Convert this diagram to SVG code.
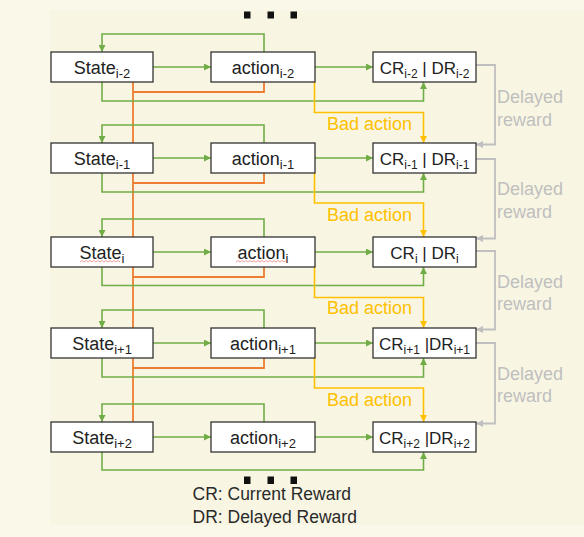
<svg xmlns="http://www.w3.org/2000/svg" width="584" height="537" viewBox="0 0 584 537">
<defs>
<style>
.box{fill:#ffffff;stroke:#333333;stroke-width:1.3}
.lbl{font-family:"Liberation Sans",Arial,sans-serif;font-size:18px;fill:#222222;text-anchor:middle}
.lblc{font-family:"Liberation Sans",Arial,sans-serif;font-size:17px;fill:#222222;text-anchor:middle}
.sub{font-size:13px}
.subc{font-size:12px}
.g{fill:none;stroke:#70ad47;stroke-width:1.6}
.o{fill:none;stroke:#ed7d31;stroke-width:1.8}
.y{fill:none;stroke:#ffc000;stroke-width:1.6}
.gr{fill:none;stroke:#bfbfbf;stroke-width:1.8}
.bad{font-family:"Liberation Sans",Arial,sans-serif;font-size:18px;fill:#ffc000}
.del{font-family:"Liberation Sans",Arial,sans-serif;font-size:18px;fill:#bfbfbf}
.leg{font-family:"Liberation Sans",Arial,sans-serif;font-size:17.5px;fill:#2a2a2a}
.sq{fill:#111111}
.wavy{fill:none;stroke:#e05050;stroke-width:0.8;opacity:0.7}
</style>
<marker id="ag" viewBox="0 0 10 10" refX="10" refY="5" markerWidth="7" markerHeight="7" markerUnits="userSpaceOnUse" orient="auto"><path d="M0,0 L10,5 L0,10 z" fill="#70ad47"/></marker>
<marker id="ay" viewBox="0 0 10 10" refX="10" refY="5" markerWidth="7" markerHeight="7" markerUnits="userSpaceOnUse" orient="auto"><path d="M0,0 L10,5 L0,10 z" fill="#ffc000"/></marker>
<marker id="agr" viewBox="0 0 10 10" refX="10" refY="5" markerWidth="7" markerHeight="7" markerUnits="userSpaceOnUse" orient="auto"><path d="M0,0 L10,5 L0,10 z" fill="#bfbfbf"/></marker>
</defs>
<rect x="0" y="0" width="584" height="537" fill="#faf8e8"/>
<rect x="50" y="10" width="534" height="515" fill="#f8f6e3"/>

<g id="connectors">
<path class="o" d="M133 82 V422"/>
<path class="o" d="M264 82 V92 H133"/>
<path class="o" d="M264 173 V183 H133"/>
<path class="o" d="M264 267 V277 H133"/>
<path class="o" d="M264 358 V368 H133"/>
<path class="g" d="M264 52 V34 H102 V52" marker-end="url(#ag)"/>
<path class="g" d="M264 143 V125 H102 V143" marker-end="url(#ag)"/>
<path class="g" d="M264 237 V219 H102 V237" marker-end="url(#ag)"/>
<path class="g" d="M264 328 V310 H102 V328" marker-end="url(#ag)"/>
<path class="g" d="M264 422 V404 H102 V422" marker-end="url(#ag)"/>
<path class="g" d="M102 82 V101 H423.5 V82" marker-end="url(#ag)"/>
<path class="g" d="M102 173 V192 H423.5 V173" marker-end="url(#ag)"/>
<path class="g" d="M102 267 V285.5 H423.5 V267" marker-end="url(#ag)"/>
<path class="g" d="M102 358 V377 H423.5 V358" marker-end="url(#ag)"/>
<path class="g" d="M102 452 V470 H423.5 V452" marker-end="url(#ag)"/>
<path class="g" d="M153 67 H211" marker-end="url(#ag)"/>
<path class="g" d="M315 67 H373" marker-end="url(#ag)"/>
<path class="g" d="M153 158 H211" marker-end="url(#ag)"/>
<path class="g" d="M315 158 H373" marker-end="url(#ag)"/>
<path class="g" d="M153 252 H211" marker-end="url(#ag)"/>
<path class="g" d="M315 252 H373" marker-end="url(#ag)"/>
<path class="g" d="M153 343 H211" marker-end="url(#ag)"/>
<path class="g" d="M315 343 H373" marker-end="url(#ag)"/>
<path class="g" d="M153 437 H211" marker-end="url(#ag)"/>
<path class="g" d="M315 437 H373" marker-end="url(#ag)"/>
<path class="y" d="M314.5 82 V112.5 H423.5 V143" marker-end="url(#ay)"/>
<path class="y" d="M314.5 173 V203 H423.5 V237" marker-end="url(#ay)"/>
<path class="y" d="M314.5 267 V297.5 H423.5 V328" marker-end="url(#ay)"/>
<path class="y" d="M314.5 358 V388 H423.5 V422" marker-end="url(#ay)"/>
<path class="gr" d="M476 65 H495 V144.5 H476" marker-end="url(#agr)"/>
<path class="gr" d="M476 159 H495 V238.5 H476" marker-end="url(#agr)"/>
<path class="gr" d="M476 251 H495 V329.5 H476" marker-end="url(#agr)"/>
<path class="gr" d="M476 343 H495 V423.5 H476" marker-end="url(#agr)"/>
<text class="bad" x="327" y="129.5">Bad action</text>
<text class="bad" x="327" y="221">Bad action</text>
<text class="bad" x="327" y="314">Bad action</text>
<text class="bad" x="327" y="406">Bad action</text>
<text class="del" x="497" y="103">Delayed</text>
<text class="del" x="497" y="125.5">reward</text>
<text class="del" x="497" y="195">Delayed</text>
<text class="del" x="497" y="217.5">reward</text>
<text class="del" x="497" y="288">Delayed</text>
<text class="del" x="497" y="310">reward</text>
<text class="del" x="497" y="380">Delayed</text>
<text class="del" x="497" y="402">reward</text>
</g>

<g id="state-i-2"><rect class="box" x="51" y="52" width="102" height="30"/><text class="lbl" x="102" y="73.5">State<tspan class="sub" dy="4.5">i-2</tspan></text></g>
<g id="action-i-2"><rect class="box" x="211" y="52" width="104" height="30"/><text class="lbl" x="263" y="73.5">action<tspan class="sub" dy="4.5">i-2</tspan></text></g>
<g id="reward-i-2"><rect class="box" x="373" y="52" width="103" height="30"/><text class="lblc" x="424.5" y="73.5">CR<tspan class="subc" dy="4.5">i-2</tspan><tspan dy="-4.5"> | DR</tspan><tspan class="subc" dy="4.5">i-2</tspan></text></g>
<g id="state-i-1"><rect class="box" x="51" y="143" width="102" height="30"/><text class="lbl" x="102" y="164.5">State<tspan class="sub" dy="4.5">i-1</tspan></text></g>
<g id="action-i-1"><rect class="box" x="211" y="143" width="104" height="30"/><text class="lbl" x="263" y="164.5">action<tspan class="sub" dy="4.5">i-1</tspan></text></g>
<g id="reward-i-1"><rect class="box" x="373" y="143" width="103" height="30"/><text class="lblc" x="424.5" y="164.5">CR<tspan class="subc" dy="4.5">i-1</tspan><tspan dy="-4.5"> | DR</tspan><tspan class="subc" dy="4.5">i-1</tspan></text></g>
<g id="state-i"><rect class="box" x="51" y="237" width="102" height="30"/><text class="lbl" x="102" y="258.5">State<tspan class="sub" dy="4.5">i</tspan></text><path class="wavy" d="M80 262 l2 -1.5 l2 1.5 l2 -1.5 l2 1.5 l2 -1.5 l2 1.5 l2 -1.5 l2 1.5 l2 -1.5 l2 1.5 l2 -1.5 l2 1.5 l2 -1.5 l2 1.5 l2 -1.5 l2 1.5 l2 -1.5 l2 1.5 l2 -1.5 l2 1.5"/></g>
<g id="action-i"><rect class="box" x="211" y="237" width="104" height="30"/><text class="lbl" x="263" y="258.5">action<tspan class="sub" dy="4.5">i</tspan></text><path class="wavy" d="M236 262 l2 -1.5 l2 1.5 l2 -1.5 l2 1.5 l2 -1.5 l2 1.5 l2 -1.5 l2 1.5 l2 -1.5 l2 1.5 l2 -1.5 l2 1.5 l2 -1.5 l2 1.5 l2 -1.5 l2 1.5 l2 -1.5 l2 1.5 l2 -1.5 l2 1.5 l2 -1.5 l2 1.5 l2 -1.5 l2 1.5 l2 -1.5 l2 1.5"/></g>
<g id="reward-i"><rect class="box" x="373" y="237" width="103" height="30"/><text class="lblc" x="424.5" y="258.5">CR<tspan class="subc" dy="4.5">i</tspan><tspan dy="-4.5"> | DR</tspan><tspan class="subc" dy="4.5">i</tspan></text></g>
<g id="state-i+1"><rect class="box" x="51" y="328" width="102" height="30"/><text class="lbl" x="102" y="349.5">State<tspan class="sub" dy="4.5">i+1</tspan></text></g>
<g id="action-i+1"><rect class="box" x="211" y="328" width="104" height="30"/><text class="lbl" x="263" y="349.5">action<tspan class="sub" dy="4.5">i+1</tspan></text></g>
<g id="reward-i+1"><rect class="box" x="373" y="328" width="103" height="30"/><text class="lblc" x="424.5" y="349.5">CR<tspan class="subc" dy="4.5">i+1</tspan><tspan dy="-4.5"> |DR</tspan><tspan class="subc" dy="4.5">i+1</tspan></text></g>
<g id="state-i+2"><rect class="box" x="51" y="422" width="102" height="30"/><text class="lbl" x="102" y="443.5">State<tspan class="sub" dy="4.5">i+2</tspan></text></g>
<g id="action-i+2"><rect class="box" x="211" y="422" width="104" height="30"/><text class="lbl" x="263" y="443.5">action<tspan class="sub" dy="4.5">i+2</tspan></text></g>
<g id="reward-i+2"><rect class="box" x="373" y="422" width="103" height="30"/><text class="lblc" x="424.5" y="443.5">CR<tspan class="subc" dy="4.5">i+2</tspan><tspan dy="-4.5"> |DR</tspan><tspan class="subc" dy="4.5">i+2</tspan></text></g>

<g id="ellipsis-top">
<rect class="sq" x="244" y="11.5" width="6.5" height="7"/>
<rect class="sq" x="267.5" y="11.5" width="6.5" height="7"/>
<rect class="sq" x="290.5" y="11.5" width="6.5" height="7"/>
</g>
<g id="ellipsis-bottom">
<rect class="sq" x="244" y="476.5" width="6.5" height="7.5"/>
<rect class="sq" x="267.5" y="476.5" width="6.5" height="7.5"/>
<rect class="sq" x="290.5" y="476.5" width="6.5" height="7.5"/>
</g>
<g id="legend">
<text class="leg" x="192.5" y="500">CR: Current Reward</text>
<text class="leg" x="192.5" y="523">DR: Delayed Reward</text>
</g>
</svg>
